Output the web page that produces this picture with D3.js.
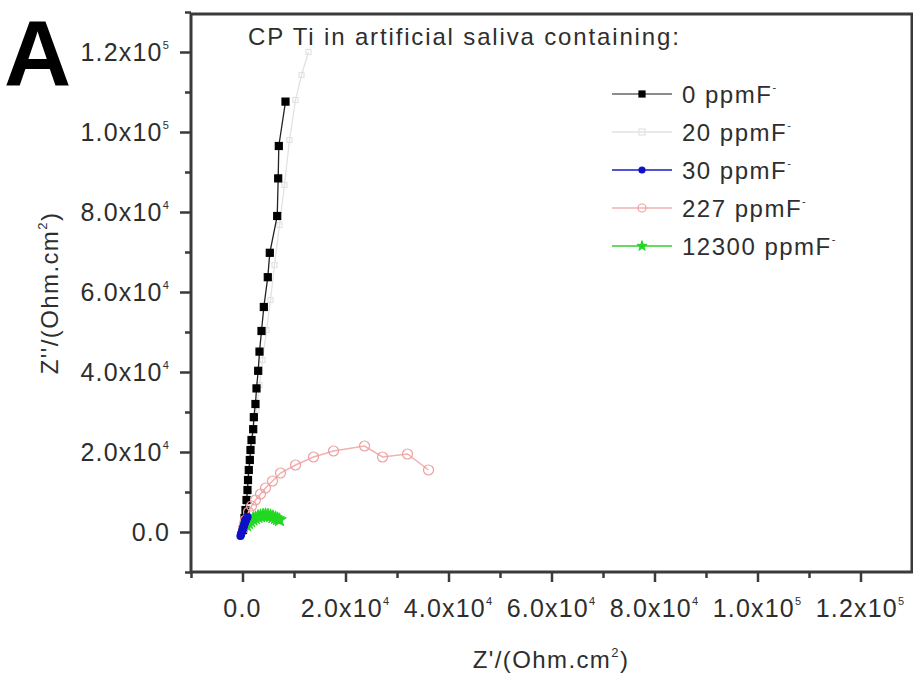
<!DOCTYPE html>
<html><head><meta charset="utf-8">
<script src="https://cdn.jsdelivr.net/npm/d3@7"></script>
<style>
body{margin:0;background:#fff;}
text{font-family:"Liberation Sans",Arial,sans-serif;}
</style></head>
<body><svg id="c" width="913" height="675"></svg>
<script>
// ---- data ----
const xTicks = [0, 20000, 40000, 60000, 80000, 100000, 120000];
const yTicks = [0, 20000, 40000, 60000, 80000, 100000, 120000];
const xMinor = [-10000, 10000, 30000, 50000, 70000, 90000, 110000];
const yMinor = [-10000, 10000, 30000, 50000, 70000, 90000, 110000, 130000];
const seriesNames = ["0 ppmF", "20 ppmF", "30 ppmF", "227 ppmF", "12300 ppmF"];
// [Z', Z''] pairs
const ppm0 = [[100,500],[190,1000],[290,2000],[390,3500],[580,5500],[780,8000],[970,10500],[1070,13000],[1220,15500],[1420,18000],[1550,20500],[1750,23000],[2080,25700],[2200,28700],[2520,32000],[2720,35900],[3050,40300],[3300,45100],[3690,50250],[4140,56250],[4910,63700],[5300,69800],[6740,79000],[6930,88400],[7050,96500],[8350,107600]];
const ppm20 = [[194,250],[388,2500],[583,5000],[777,7500],[971,10000],[1165,12500],[1359,15500],[1554,18500],[1748,21500],[2136,25500],[2719,30500],[3301,36750],[3884,43000],[4661,50500],[5438,58000],[6214,66750],[7185,76750],[8156,86750],[9127,98000],[10293,108000],[11458,114250],[12817,120000]];
const ppm30 = [[-390,-1000],[-290,-600],[-194,-250],[-100,100],[0,500],[100,900],[194,1250],[290,1600],[388,2000],[480,2400],[583,2750],[680,3000],[777,3250],[971,3750]];
const ppm227 = [[194,1000],[583,3000],[1165,5000],[1748,6500],[2525,8000],[3496,9500],[4467,11000],[5826,12750],[7380,14750],[10293,16750],[13788,18750],[17672,20250],[23692,21500],[27188,18750],[32043,19500],[36121,15500]];
const ppm12300 = [[777,1750],[1150,2300],[1554,2750],[2040,3150],[2525,3500],[3010,3800],[3496,4000],[3980,4150],[4467,4250],[4950,4150],[5438,4000],[5920,3750],[6409,3500],[6800,3250],[7185,3000]];

const svg = d3.select("#c");
const L = 191, R = 912, T = 14, B = 572;
const x = d3.scaleLinear().domain([-10000, 130000]).range([L, R]);
const y = d3.scaleLinear().domain([-10000, 130000]).range([B, 12]);
const axisCol = "#3a3a3a";

// frame
svg.append("rect").attr("x", L).attr("y", T).attr("width", R - L).attr("height", B - T)
  .attr("fill", "none").attr("stroke", axisCol).attr("stroke-width", 3);

// axes ticks
function styleAxis(g){ g.select(".domain").remove(); g.selectAll("line").attr("stroke", axisCol).attr("stroke-width", 2.5); g.selectAll("text").remove(); }
svg.append("g").attr("transform", `translate(0,${B})`).call(d3.axisBottom(x).tickValues(xTicks).tickSize(10).tickFormat("")).call(styleAxis);
svg.append("g").attr("transform", `translate(0,${B})`).call(d3.axisBottom(x).tickValues(xMinor).tickSize(6).tickFormat("")).call(styleAxis);
svg.append("g").attr("transform", `translate(${L},0)`).call(d3.axisLeft(y).tickValues(yTicks).tickSize(11).tickFormat("")).call(styleAxis);
svg.append("g").attr("transform", `translate(${L},0)`).call(d3.axisLeft(y).tickValues(yMinor).tickSize(6).tickFormat("")).call(styleAxis);

function sci(v){
  if (v === 0) return {m: "0.0", e: null};
  const e = Math.floor(Math.log10(Math.abs(v)));
  return {m: (v / Math.pow(10, e)).toFixed(1) + "x10", e: String(e)};
}
function addLabel(g, v){
  const s = sci(v);
  g.append("tspan").text(s.m);
  if (s.e) g.append("tspan").attr("font-size", 11).attr("dy", -12).text(s.e);
}
const tc = "#2e2e2e";
xTicks.forEach(v => {
  const t = svg.append("text").attr("x", x(v)).attr("y", 617).attr("text-anchor", "middle")
    .attr("font-size", 25).attr("letter-spacing", 1.2).attr("fill", tc);
  addLabel(t, v);
});
yTicks.forEach(v => {
  const t = svg.append("text").attr("x", 170).attr("y", y(v) + 9).attr("text-anchor", "end")
    .attr("font-size", 25).attr("letter-spacing", 1.2).attr("fill", tc);
  addLabel(t, v);
});

// axis titles
const xt = svg.append("text").attr("x", 551).attr("y", 668).attr("text-anchor", "middle")
  .attr("font-size", 24).attr("letter-spacing", 1.4).attr("fill", tc);
xt.append("tspan").text("Z'/(Ohm.cm");
xt.append("tspan").attr("font-size", 13).attr("dy", -11).text("2");
xt.append("tspan").attr("dy", 11).text(")");
const yt = svg.append("text").attr("transform", "translate(58,293) rotate(-90)").attr("text-anchor", "middle")
  .attr("font-size", 24).attr("letter-spacing", 1.4).attr("fill", tc);
yt.append("tspan").text("Z''/(Ohm.cm");
yt.append("tspan").attr("font-size", 13).attr("dy", -11).text("2");
yt.append("tspan").attr("dy", 11).text(")");

// panel label and title
svg.append("text").attr("x", 4).attr("y", 85).attr("font-size", 93).attr("font-weight", "bold").attr("fill", "#000").text("A");
svg.append("text").attr("x", 248).attr("y", 45).attr("font-size", 24).attr("letter-spacing", 1.85).attr("fill", tc)
  .text("CP Ti in artificial saliva containing:");

// series
const styles = [
  {data: ppm0, line: "#222", lw: 1.3, marker: "square", fill: "#000", stroke: "#000", size: 7},
  {data: ppm20, line: "#e2e2e2", lw: 1.3, marker: "square", fill: "none", stroke: "#dde6dd", size: 5},
  {data: ppm30, line: "#1a1acc", lw: 1.3, marker: "circle", fill: "#1010c8", stroke: "#1010c8", size: 7},
  {data: ppm227, line: "#f2b0b0", lw: 1.5, marker: "circle", fill: "none", stroke: "#eea0a0", size: 10},
  {data: ppm12300, line: "#30d030", lw: 1.3, marker: "star", fill: "#22d822", stroke: "#22d822", size: 8}
];
const line = d3.line().x(d => x(d[0])).y(d => y(d[1]));
function marker(g, st, cx, cy){
  const s = st.size;
  if (st.marker === "square") {
    g.append("rect").attr("x", cx - s/2).attr("y", cy - s/2).attr("width", s).attr("height", s)
      .attr("fill", st.fill).attr("stroke", st.stroke).attr("stroke-width", 1.2);
  } else if (st.marker === "circle") {
    g.append("circle").attr("cx", cx).attr("cy", cy).attr("r", s/2)
      .attr("fill", st.fill).attr("stroke", st.stroke).attr("stroke-width", 1.2);
  } else {
    g.append("path").attr("transform", `translate(${cx},${cy})`)
      .attr("d", d3.symbol(d3.symbolStar, s*s*0.9)()).attr("fill", st.fill).attr("stroke", st.stroke);
  }
}
const drawOrder = [1, 0, 3, 4, 2];
drawOrder.forEach(i => {
  const st = styles[i];
  const g = svg.append("g");
  g.append("path").attr("d", line(st.data)).attr("fill", "none").attr("stroke", st.line).attr("stroke-width", st.lw);
  st.data.forEach(d => marker(g, st, x(d[0]), y(d[1])));
});

// legend
const legY0 = 94, legDy = 38;
seriesNames.forEach((n, i) => {
  const st = styles[i];
  const ly = legY0 + i * legDy;
  const g = svg.append("g");
  g.append("line").attr("x1", 612).attr("x2", 672).attr("y1", ly).attr("y2", ly)
    .attr("stroke", i === 0 ? "#666" : st.line).attr("stroke-width", 1.3);
  marker(g, Object.assign({}, st, {size: st.marker === "circle" && st.fill === "none" ? 8 : 6}), 642, ly);
  const t = g.append("text").attr("x", 682).attr("y", ly + 9).attr("font-size", 24).attr("letter-spacing", 1.5).attr("fill", tc);
  t.append("tspan").text(n);
  t.append("tspan").attr("font-size", 11).attr("dy", -12).text("-");
});
</script></body></html>
